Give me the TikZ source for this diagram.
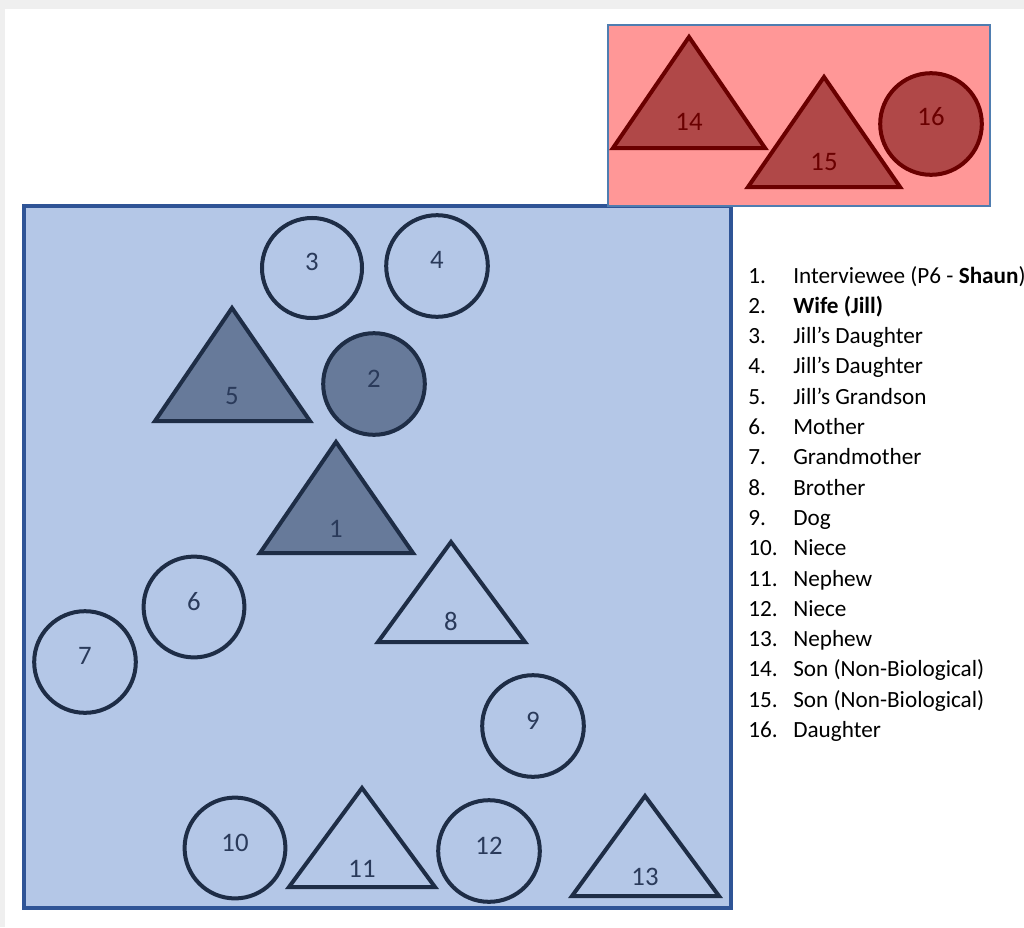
\documentclass[tikz,border=0pt]{standalone}
\usepackage{fontspec}
\setmainfont{Carlito}
\usetikzlibrary{positioning}
\definecolor{pageGray}{HTML}{EFEFEF}
\definecolor{groupBlue}{HTML}{B4C7E7}
\definecolor{groupEdge}{HTML}{2F5496}
\definecolor{groupPink}{HTML}{FF9797}
\definecolor{pinkEdge}{HTML}{4F7DB0}
\definecolor{navyLine}{HTML}{1E2D46}
\definecolor{navyFill}{HTML}{677A9A}
\definecolor{navyText}{HTML}{2A3A5A}
\definecolor{redLine}{HTML}{6A0000}
\definecolor{redFill}{HTML}{B04848}

\begin{document}
\begin{tikzpicture}[x=0.025cm,y=-0.025cm,
  person/.style={draw=navyLine, line width=0.1cm, line join=miter},
  close/.style={person, fill=navyFill},
  family/.style={draw=redLine, line width=0.1cm, fill=redFill},
  num/.style={anchor=base, inner sep=0pt, text=navyText, font=\fontsize{19}{22}\selectfont},
  redNum/.style={num, text=redLine},
  legend/.style={anchor=base west, inner sep=0pt, text=black, font=\fontsize{16.5}{20}\selectfont}
]
\useasboundingbox (0,0) rectangle (1024,927);
\fill[white] (0,0) rectangle (1024,927);
\fill[pageGray] (0,0) rectangle (1024,9);
\fill[pageGray] (0,0) rectangle (5,927);

\draw[fill=groupBlue, draw=groupEdge, line width=0.08cm] (24,206) rectangle (731,908);
\draw[fill=groupPink, draw=pinkEdge, line width=0.065cm] (608,25) rectangle (990,206);

\draw[person] (312,268) circle[radius=1.25cm];
\draw[person] (437,266) circle[radius=1.27cm];
\draw[close] (232,308) -- (310,421) -- (155,421) -- cycle;
\draw[close] (374,384) circle[radius=1.27cm];
\draw[close] (336,442) -- (413,553) -- (260,553) -- cycle;
\draw[person] (194,607) circle[radius=1.26cm];
\draw[person] (85,662) circle[radius=1.27cm];
\draw[person] (451,542) -- (525,642) -- (378,642) -- cycle;
\draw[person] (533,726) circle[radius=1.27cm];
\draw[person] (235,848) circle[radius=1.26cm];
\draw[person] (362,788) -- (435,887) -- (289,887) -- cycle;
\draw[person] (489,851) circle[radius=1.27cm];
\draw[person] (645,796) -- (719,896) -- (572,896) -- cycle;

\draw[family] (689,37) -- (765,148) -- (613,148) -- cycle;
\draw[family] (824,77) -- (900,187) -- (748,187) -- cycle;
\draw[family] (931,124) circle[radius=1.27cm];

\node[num] (p1) at (336,537) {1};
\node[num] (p2) at (374,387) {2};
\node[num] (p3) at (312,270) {3};
\node[num] (p4) at (437,268) {4};
\node[num] (p5) at (232,404) {5};
\node[num] (p6) at (194,610) {6};
\node[num] (p7) at (85,664) {7};
\node[num] (p8) at (451,630) {8};
\node[num] (p9) at (533,729) {9};
\node[num] (p10) at (235,851) {10};
\node[num] (p11) at (362,877) {11};
\node[num] (p12) at (489,854) {12};
\node[num] (p13) at (645,885) {13};
\node[redNum] (p14) at (689,130) {14};
\node[redNum] (p15) at (824,170) {15};
\node[redNum] (p16) at (931,125) {16};

\foreach \i/\t in {1/{Interviewee (P6 - \textbf{Shaun})}, 2/{\textbf{Wife (Jill)}},
  3/{Jill’s Daughter}, 4/{Jill’s Daughter}, 5/{Jill’s Grandson}, 6/{Mother},
  7/{Grandmother}, 8/{Brother}, 9/{Dog}, 10/{Niece}, 11/{Nephew}, 12/{Niece},
  13/{Nephew}, 14/{Son (Non-Biological)}, 15/{Son (Non-Biological)}, 16/{Daughter}}
{
  \node[legend] (n\i) at (748,{283+(\i-1)*30.3}) {\i.};
  \node[legend] (t\i) at (793,{283+(\i-1)*30.3}) {\t};
}
\end{tikzpicture}
\end{document}
